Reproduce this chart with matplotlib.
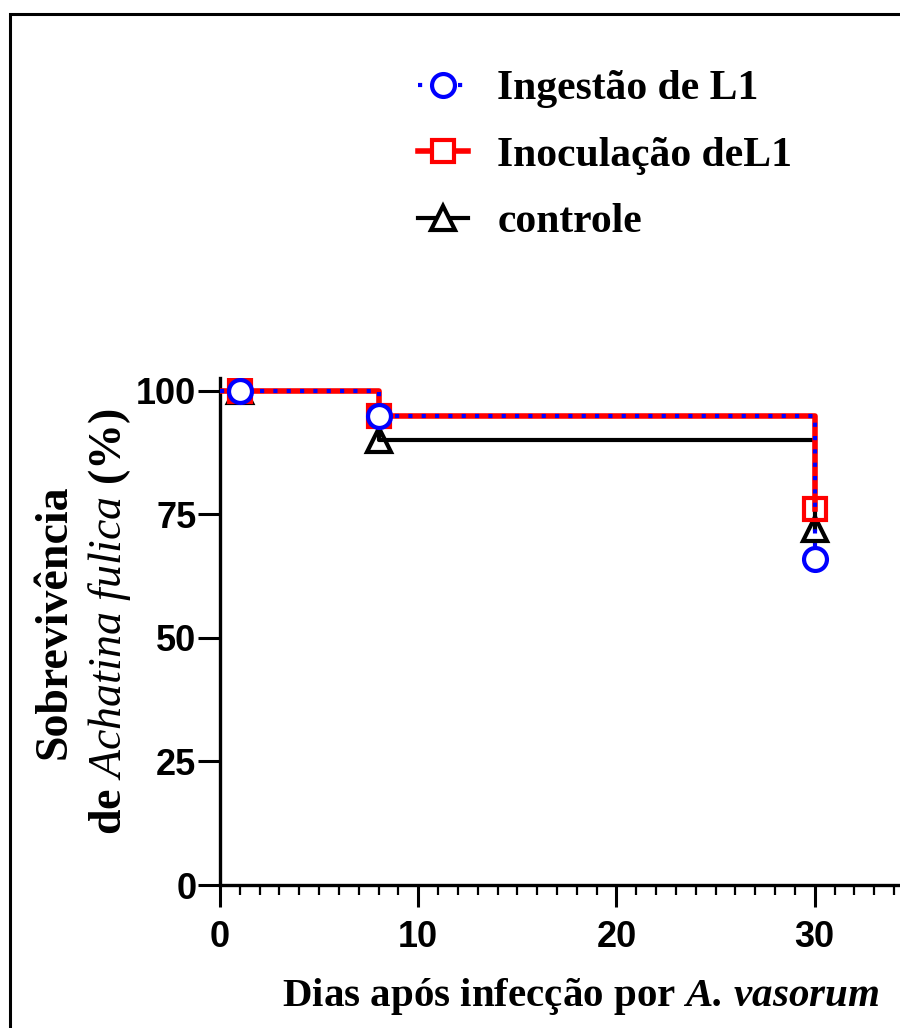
import matplotlib

matplotlib.use("Agg")
import matplotlib.pyplot as plt
from matplotlib.lines import Line2D
from matplotlib.patches import Rectangle
from matplotlib.font_manager import FontProperties
from matplotlib.ticker import MultipleLocator

# step curves (day, % survival)
step_days = [0, 8, 30]
ingestao_surv = [100, 95, 66]
inoculacao_surv = [100, 95, 76]
controle_surv = [100, 90, 72]

# symbols
marker_days = [1, 8, 30]

labels = ["Ingestão de L1", "Inoculação deL1", "controle"]
x_ticks = [0, 10, 20, 30]
y_ticks = [0, 25, 50, 75, 100]

plt.rcParams["mathtext.fontset"] = "custom"
plt.rcParams["mathtext.rm"] = "Liberation Serif:bold"
plt.rcParams["mathtext.it"] = "Liberation Serif:italic"
plt.rcParams["mathtext.bf"] = "Liberation Serif:bold"
plt.rcParams["mathtext.bfit"] = "Liberation Serif:italic:bold"


def main() -> None:
    fig = plt.figure(figsize=(9, 10.28), dpi=100)
    ax = fig.add_axes([0.2444, 0.1391, 0.7556, 0.4932])

    # control below, then inoculation (red), then ingestion (blue dotted)
    ax.plot(step_days, controle_surv, drawstyle="steps-post", color="black", lw=3, zorder=2)
    ax.plot(step_days, inoculacao_surv, drawstyle="steps-post", color="red", lw=4, zorder=3)
    ax.plot(step_days, ingestao_surv, drawstyle="steps-post", color="blue", lw=3,
            linestyle=(0, (1, 2.2)), zorder=4)

    ax.plot(marker_days, controle_surv, ls="none", marker="^", ms=17, mew=3,
            mfc="none", mec="black", zorder=5)
    ax.plot(marker_days, inoculacao_surv, ls="none", marker="s", ms=16, mew=3,
            mfc="none", mec="red", zorder=6)
    ax.plot(marker_days, ingestao_surv, ls="none", marker="o", ms=16.5, mew=3,
            mfc="white", mec="blue", zorder=7)

    ax.set_xlim(0, 34.3)
    ax.set_ylim(0, 102.6)
    ax.set_xticks(x_ticks)
    ax.set_yticks(y_ticks)
    ax.xaxis.set_minor_locator(MultipleLocator(1))

    for s in ["top", "right"]:
        ax.spines[s].set_visible(False)
    for s in ["left", "bottom"]:
        ax.spines[s].set_linewidth(2.4)

    ax.tick_params(axis="both", which="major", length=16, width=2.2, direction="out")
    ax.tick_params(axis="x", which="minor", length=7, width=1.6, direction="out")
    ax.tick_params(axis="x", which="major", pad=9)
    ax.tick_params(axis="y", which="major", pad=1)
    tick_font = FontProperties(family="Liberation Sans", weight="bold", size=26)
    for lab in ax.get_xticklabels() + ax.get_yticklabels():
        lab.set_fontproperties(tick_font)

    ax.set_xlabel(r"Dias após infecção por $\mathbfit{A.\,vasorum}$",
                  family="Liberation Serif", weight="bold", fontsize=29.5)
    ax.xaxis.set_label_coords(0.531, -0.18)

    ax.set_ylabel("Sobrevivência\n" + r"de $\mathit{Achatina}$ $\mathit{fulica}$ (%)",
                  family="Liberation Serif", weight="bold", fontsize=33,
                  ha="center", va="center", rotation_mode="default",
                  multialignment="center", linespacing=1.3)
    ax.yaxis.set_label_coords((83 - 220) / 680, (885 - 622) / 507)

    handles = [
        Line2D([], [], color="blue", lw=3, linestyle=(0, (1, 2.2)), marker="o",
               ms=16.5, mew=3, mfc="white", mec="blue"),
        Line2D([], [], color="red", lw=4, marker="s", ms=16, mew=3,
               mfc="white", mec="red"),
        Line2D([], [], color="black", lw=3, marker="^", ms=17, mew=3,
               mfc="white", mec="black"),
    ]
    ax.legend(handles, labels, loc="upper left",
              bbox_to_anchor=(418 / 900, 1 - 70 / 1028),
              bbox_transform=fig.transFigure, frameon=False,
              prop=FontProperties(family="Liberation Serif", weight="bold", size=30),
              handlelength=1.2, handletextpad=0.7, labelspacing=0.68,
              borderpad=0, borderaxespad=0, numpoints=1)

    # page frame (cut at the right and bottom edges)
    fig.add_artist(Rectangle((10 / 900, -0.5), 2.0, 1 - 14 / 1028 + 0.5,
                             transform=fig.transFigure, fill=False,
                             ec="black", lw=2.2))

    fig.savefig("out.png", dpi=100)
    plt.close(fig)


if __name__ == "__main__":
    main()
